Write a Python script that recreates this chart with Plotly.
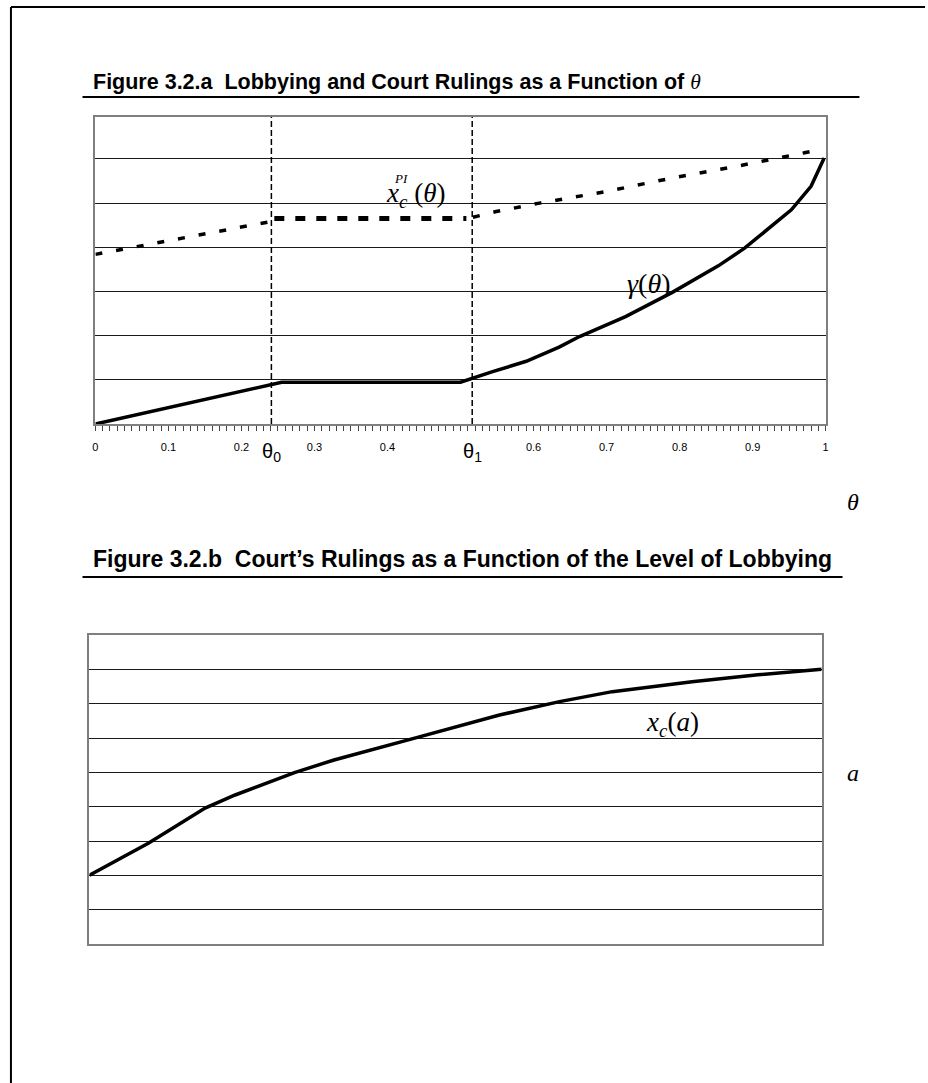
import plotly.graph_objects as go

# ---------------- data ----------------
# Figure 3.2.a
theta0 = 0.241
theta1 = 0.516

gamma_theta = [0.0, 0.245, 0.255, 0.50, 0.517, 0.545, 0.59, 0.635, 0.663, 0.726,
               0.79, 0.853, 0.889, 0.953, 0.98, 0.998]
gamma_vals = [0.0, 0.91, 0.945, 0.945, 1.04, 1.19, 1.42, 1.74, 1.98, 2.43,
              2.98, 3.58, 3.98, 4.85, 5.38, 6.02]

pi_left_theta = [0.0, 0.236]
pi_left_vals = [3.84, 4.57]
pi_flat_theta = [0.245, 0.508]
pi_flat_vals = [4.65, 4.65]
pi_right_theta = [0.517, 0.549, 0.608, 0.699, 0.79, 0.88, 0.971, 0.996]
pi_right_vals = [4.68, 4.81, 5.0, 5.26, 5.57, 5.84, 6.14, 6.22]

x_tick_vals = [0, 0.1, 0.2, 0.3, 0.4, 0.6, 0.7, 0.8, 0.9, 1]
x_tick_text = ["0", "0.1", "0.2", "0.3", "0.4", "0.6", "0.7", "0.8", "0.9", "1"]

# Figure 3.2.b
a_vals = [0.0, 0.081, 0.158, 0.199, 0.28, 0.334, 0.443, 0.56, 0.642, 0.714, 0.823, 0.913, 1.0]
xc_vals = [2.0, 2.94, 3.96, 4.34, 4.99, 5.36, 5.99, 6.67, 7.06, 7.35, 7.64, 7.84, 8.0]

# ---------------- layout helpers ----------------
W, H = 928, 1083
def px(x):
    return x / W
def py(y):
    return 1 - y / H

SANS = "Liberation Sans, Arial, sans-serif"
SERIF = "Liberation Serif, Times New Roman, serif"

fig = go.Figure()

# panel a traces
fig.add_trace(go.Scatter(x=[theta0, theta0], y=[0, 7.02], mode="lines",
                         line=dict(color="black", width=1.5, dash="6px,3px"),
                         xaxis="x", yaxis="y", cliponaxis=False))
fig.add_trace(go.Scatter(x=[theta1, theta1], y=[0, 7.02], mode="lines",
                         line=dict(color="black", width=1.5, dash="6px,3px"),
                         xaxis="x", yaxis="y", cliponaxis=False))
fig.add_trace(go.Scatter(x=pi_left_theta, y=pi_left_vals, mode="lines",
                         line=dict(color="black", width=3.5, dash="7px,14px"),
                         xaxis="x", yaxis="y"))
fig.add_trace(go.Scatter(x=pi_flat_theta, y=pi_flat_vals, mode="lines",
                         line=dict(color="black", width=5, dash="10px,11px"),
                         xaxis="x", yaxis="y"))
fig.add_trace(go.Scatter(x=pi_right_theta, y=pi_right_vals, mode="lines",
                         line=dict(color="black", width=3.5, dash="7px,14px"),
                         xaxis="x", yaxis="y"))
fig.add_trace(go.Scatter(x=gamma_theta, y=gamma_vals, mode="lines",
                         line=dict(color="black", width=3.5),
                         xaxis="x", yaxis="y"))

# panel b trace
fig.add_trace(go.Scatter(x=a_vals, y=xc_vals, mode="lines",
                         line=dict(color="black", width=3.5),
                         xaxis="x2", yaxis="y2", cliponaxis=False))

frame = "#7f7f7f"
grid = "#1a1a1a"

fig.update_layout(
    width=W, height=H,
    margin=dict(l=0, r=0, t=0, b=0),
    paper_bgcolor="white", plot_bgcolor="white",
    showlegend=False,
    xaxis=dict(domain=[px(93), px(828)], range=[0, 1], anchor="y",
               showgrid=False, zeroline=False,
               showline=True, mirror=True, linecolor=frame, linewidth=2,
               tickmode="array", tickvals=x_tick_vals, ticktext=x_tick_text,
               ticks="outside", ticklen=5, tickwidth=1, tickcolor="#444",
               ticklabelstandoff=7,
               tickfont=dict(family=SANS, size=11, color="black"),
               minor=dict(tickmode="linear", tick0=0, dtick=0.01, ticks="outside",
                          ticklen=5, tickwidth=1, tickcolor="#444", showgrid=False)),
    yaxis=dict(domain=[py(424), py(117)], range=[0, 6.95], anchor="x",
               tickmode="linear", tick0=0, dtick=1,
               showgrid=True, gridcolor=grid, gridwidth=1, zeroline=False,
               showticklabels=False, ticks="",
               showline=True, mirror=True, linecolor=frame, linewidth=2),
    xaxis2=dict(domain=[px(87), px(824)], range=[0, 1], anchor="y2",
                showgrid=False, zeroline=False, showticklabels=False, ticks="",
                showline=True, mirror=True, linecolor=frame, linewidth=2),
    yaxis2=dict(domain=[py(944), py(635)], range=[0, 9], anchor="x2",
                tickmode="linear", tick0=0, dtick=1,
                showgrid=True, gridcolor=grid, gridwidth=1, zeroline=False,
                showticklabels=False, ticks="",
                showline=True, mirror=True, linecolor=frame, linewidth=2),
)

# page border and title underlines
shapes = [
    dict(type="line", xref="paper", yref="paper", x0=px(8), x1=px(928), y0=py(7), y1=py(7),
         line=dict(color="black", width=2)),
    dict(type="line", xref="paper", yref="paper", x0=px(8), x1=px(8), y0=py(7), y1=py(1083),
         line=dict(color="black", width=2)),
    dict(type="line", xref="paper", yref="paper", x0=px(80), x1=px(862), y0=py(97), y1=py(97),
         line=dict(color="black", width=2)),
    dict(type="line", xref="paper", yref="paper", x0=px(80), x1=px(845), y0=py(577), y1=py(577),
         line=dict(color="black", width=2)),
]
fig.update_layout(shapes=shapes)

ann = []
ann.append(dict(xref="paper", yref="paper", x=px(89), y=py(82), xanchor="left", yanchor="middle",
                text="<b>Figure 3.2.a\u00a0\u00a0Lobbying and Court Rulings as a Function of </b>"
                     "<span style='font-family:Liberation Serif'><i>θ</i></span>",
                showarrow=False, font=dict(family=SANS, size=21.5, color="black")))
ann.append(dict(xref="paper", yref="paper", x=px(89), y=py(559), xanchor="left", yanchor="middle",
                text="<b>Figure 3.2.b\u00a0\u00a0Court’s Rulings as a Function of the Level of Lobbying</b>",
                showarrow=False, font=dict(family=SANS, size=23, color="black")))
# theta_0, theta_1 labels on axis
for tv, sub in [(theta0, "0"), (theta1, "1")]:
    ann.append(dict(xref="x", yref="paper", x=tv, y=py(452), xanchor="center", yanchor="middle",
                    text=f"θ<sub>{sub}</sub>", showarrow=False,
                    font=dict(family=SANS, size=20, color="black")))
# axis names
ann.append(dict(xref="paper", yref="paper", x=px(856), y=py(502), xanchor="center", yanchor="middle",
                text="<i>θ</i>", showarrow=False, font=dict(family=SERIF, size=24, color="black")))
ann.append(dict(xref="paper", yref="paper", x=px(856), y=py(773), xanchor="center", yanchor="middle",
                text="<i>a</i>", showarrow=False, font=dict(family=SERIF, size=24, color="black")))
# curve labels
ann.append(dict(xref="paper", yref="paper", x=px(383), y=py(195), xanchor="left", yanchor="middle",
                text="<i>x<sub>c</sub></i>\u00a0(<i>θ</i>)", showarrow=False,
                font=dict(family=SERIF, size=27, color="black")))
ann.append(dict(xref="paper", yref="paper", x=px(392), y=py(179), xanchor="left", yanchor="middle",
                text="<i>PI</i>", showarrow=False,
                font=dict(family=SERIF, size=13, color="black")))
ann.append(dict(xref="paper", yref="paper", x=px(650), y=py(284), xanchor="center", yanchor="middle",
                text="<i>γ</i>(<i>θ</i>)", showarrow=False,
                font=dict(family=SERIF, size=28, color="black")))
ann.append(dict(xref="paper", yref="paper", x=px(674), y=py(724), xanchor="center", yanchor="middle",
                text="<i>x<sub>c</sub></i>(<i>a</i>)", showarrow=False,
                font=dict(family=SERIF, size=27, color="black")))
fig.update_layout(annotations=ann)

fig.write_html("out.html", config={"displayModeBar": False},
               post_script="document.body.style.margin='0px';")
